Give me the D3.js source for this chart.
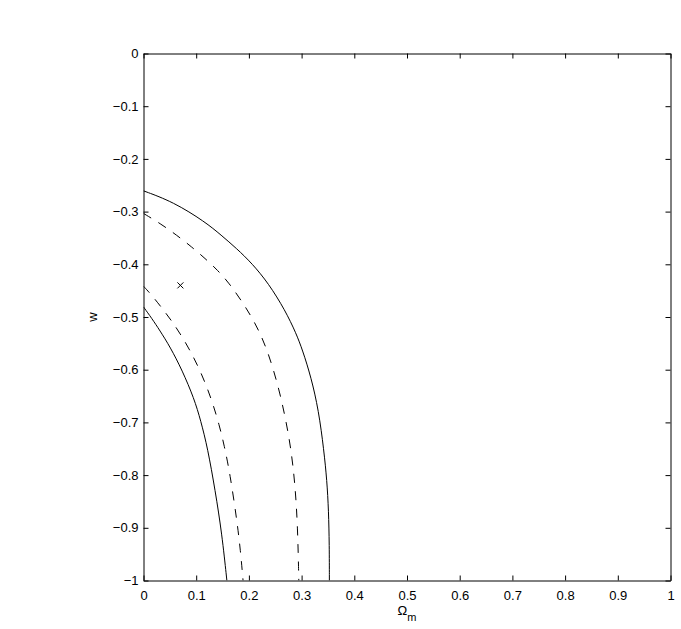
<!DOCTYPE html>
<html>
<head>
<meta charset="utf-8">
<script src="https://cdn.jsdelivr.net/npm/d3@7"></script>
<style>
  html, body { margin: 0; padding: 0; background: #fff; }
  text { font-family: "Liberation Sans", Arial, Helvetica, sans-serif; }
</style>
</head>
<body>
<svg id="chart" width="681" height="629"></svg>
<script>
// ---- data ----
const xTicks = [0, 0.1, 0.2, 0.3, 0.4, 0.5, 0.6, 0.7, 0.8, 0.9, 1];
const yTicks = [0, -0.1, -0.2, -0.3, -0.4, -0.5, -0.6, -0.7, -0.8, -0.9, -1];

const outerSolidOm = [0, 0.0563, 0.117, 0.1474, 0.1767, 0.2061, 0.2374, 0.2687, 0.2896, 0.3019, 0.318, 0.3323, 0.3423, 0.348, 0.3512, 0.3526, 0.3527];
const outerSolidW  = [-0.2606, -0.2815, -0.3195, -0.3447, -0.370, -0.3985, -0.4365, -0.4872, -0.5309, -0.5632, -0.6144, -0.6771, -0.7531, -0.8101, -0.867, -0.9335, -1.0];

const outerDashOm = [0, 0.0317, 0.063, 0.0914, 0.117, 0.1407, 0.1625, 0.1853, 0.2052, 0.2213, 0.2346, 0.2469, 0.2589, 0.2702, 0.2797, 0.2875, 0.2926, 0.2947];
const outerDashW  = [-0.3035, -0.3225, -0.3447, -0.367, -0.389, -0.4112, -0.4359, -0.4682, -0.4999, -0.5309, -0.5632, -0.6011, -0.6448, -0.6961, -0.7493, -0.8157, -0.8993, -1.0];

const innerDashOm = [0, 0.0159, 0.0408, 0.0594, 0.0793, 0.0948, 0.1085, 0.1214, 0.1326, 0.1434, 0.1532, 0.164, 0.1773, 0.184, 0.1889];
const innerDashW  = [-0.4416, -0.4587, -0.4904, -0.5157, -0.5474, -0.5759, -0.6044, -0.6359, -0.6676, -0.7037, -0.7436, -0.7968, -0.886, -0.943, -1.0];

const innerSolidOm = [0, 0.0156, 0.0307, 0.0506, 0.0734, 0.0961, 0.1085, 0.1218, 0.136, 0.1487, 0.1582];
const innerSolidW  = [-0.4809, -0.5024, -0.5252, -0.5569, -0.6011, -0.6549, -0.6961, -0.7493, -0.8291, -0.9107, -1.0];

const bestFitOm = [0.07];
const bestFitW  = [-0.44];

// ---- layout ----
const svg = d3.select("#chart");
const L = 143.5, R = 670.5, T = 53.5, B = 580.5;
const x = d3.scaleLinear().domain([0, 1]).range([L, R]);
const y = d3.scaleLinear().domain([-1, 0]).range([B, T]);
const fmt = d3.format("");

svg.append("defs").append("clipPath").attr("id", "clip")
  .append("rect").attr("x", L).attr("y", T).attr("width", R - L).attr("height", B - T);

// axes (ticks inward, mirrored on top/right)
const tl = 5;
svg.append("g").attr("transform", `translate(0,${B})`)
  .call(d3.axisBottom(x).tickValues(xTicks).tickFormat(fmt).tickSizeInner(-tl).tickSizeOuter(0).tickPadding(10))
  .call(g => g.select(".domain").attr("stroke", "#000"))
  .call(g => g.selectAll("text").attr("font-size", 13).attr("fill", "#000"));
svg.append("g").attr("transform", `translate(0,${T})`)
  .call(d3.axisTop(x).tickValues(xTicks).tickFormat("").tickSizeInner(-tl).tickSizeOuter(0))
  .call(g => g.select(".domain").attr("stroke", "#000"));
svg.append("g").attr("transform", `translate(${L},0)`)
  .call(d3.axisLeft(y).tickValues(yTicks).tickFormat(fmt).tickSizeInner(-tl).tickSizeOuter(0).tickPadding(5))
  .call(g => g.select(".domain").attr("stroke", "#000"))
  .call(g => g.selectAll("text").attr("font-size", 13).attr("fill", "#000"));
svg.append("g").attr("transform", `translate(${R},0)`)
  .call(d3.axisRight(y).tickValues(yTicks).tickFormat("").tickSizeInner(-tl).tickSizeOuter(0))
  .call(g => g.select(".domain").attr("stroke", "#000"));

// curves
const line = d3.line().x(d => x(d[0])).y(d => y(d[1])).curve(d3.curveBasis);
const curves = [
  { om: outerSolidOm, w: outerSolidW, dash: null },
  { om: outerDashOm,  w: outerDashW,  dash: "9,8.5" },
  { om: innerDashOm,  w: innerDashW,  dash: "9,8.5" },
  { om: innerSolidOm, w: innerSolidW, dash: null }
];
const cg = svg.append("g").attr("clip-path", "url(#clip)");
curves.forEach(c => {
  cg.append("path")
    .attr("d", line(c.om.map((v, i) => [v, c.w[i]])))
    .attr("fill", "none").attr("stroke", "#000").attr("stroke-width", 1)
    .attr("stroke-dasharray", c.dash);
});

// best-fit marker
const s = 3;
bestFitOm.forEach((v, i) => {
  const px = x(v), py = y(bestFitW[i]);
  cg.append("path")
    .attr("d", `M${px - s},${py - s}L${px + s},${py + s}M${px - s},${py + s}L${px + s},${py - s}`)
    .attr("stroke", "#000").attr("stroke-width", 1).attr("fill", "none");
});

// axis labels
const xl = svg.append("text").attr("x", (L + R) / 2).attr("y", 615)
  .attr("text-anchor", "middle").attr("font-size", 13);
xl.append("tspan").text("Ω");
xl.append("tspan").attr("dy", 6).attr("font-size", 11).text("m");

svg.append("text").attr("transform", `translate(97,${(T + B) / 2}) rotate(-90)`)
  .attr("text-anchor", "middle").attr("font-size", 13).text("w");
</script>
</body>
</html>
